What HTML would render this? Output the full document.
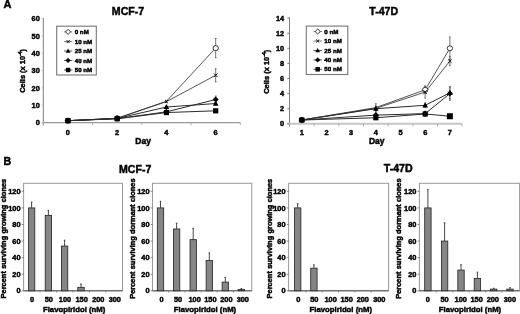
<!DOCTYPE html>
<html><head><meta charset="utf-8"><style>
html,body{margin:0;padding:0;background:#fff;width:520px;height:314px;overflow:hidden}
svg{display:block;filter:blur(0.3px)}
text{font-family:"Liberation Sans", sans-serif;font-weight:bold;fill:#000;stroke:#000;stroke-width:0.45px}
</style></head><body>
<svg width="520" height="314" viewBox="0 0 520 314">
<text x="3.60" y="8.30" font-size="11" text-anchor="start" >A</text>
<text x="3.60" y="165.40" font-size="10.6" text-anchor="start" >B</text>
<text x="128.00" y="14.90" font-size="10.6" text-anchor="middle" >MCF-7</text>
<line x1="43.30" y1="18.00" x2="43.30" y2="125.30" stroke="#808080" stroke-width="1" />
<line x1="42.60" y1="122.60" x2="240.30" y2="122.60" stroke="#999" stroke-width="1.4" />
<line x1="92.55" y1="122.60" x2="92.55" y2="125.20" stroke="#a8a8a8" stroke-width="0.9" />
<line x1="141.80" y1="122.60" x2="141.80" y2="125.20" stroke="#a8a8a8" stroke-width="0.9" />
<line x1="191.05" y1="122.60" x2="191.05" y2="125.20" stroke="#a8a8a8" stroke-width="0.9" />
<line x1="240.30" y1="122.60" x2="240.30" y2="125.20" stroke="#a8a8a8" stroke-width="0.9" />
<line x1="41.50" y1="122.60" x2="43.30" y2="122.60" stroke="#bbb" stroke-width="0.8" />
<text x="39.80" y="125.20" font-size="7.4" text-anchor="end" >0</text>
<line x1="41.50" y1="105.27" x2="43.30" y2="105.27" stroke="#bbb" stroke-width="0.8" />
<text x="39.80" y="107.87" font-size="7.4" text-anchor="end" >10</text>
<line x1="41.50" y1="87.93" x2="43.30" y2="87.93" stroke="#bbb" stroke-width="0.8" />
<text x="39.80" y="90.53" font-size="7.4" text-anchor="end" >20</text>
<line x1="41.50" y1="70.60" x2="43.30" y2="70.60" stroke="#bbb" stroke-width="0.8" />
<text x="39.80" y="73.20" font-size="7.4" text-anchor="end" >30</text>
<line x1="41.50" y1="53.27" x2="43.30" y2="53.27" stroke="#bbb" stroke-width="0.8" />
<text x="39.80" y="55.87" font-size="7.4" text-anchor="end" >40</text>
<line x1="41.50" y1="35.93" x2="43.30" y2="35.93" stroke="#bbb" stroke-width="0.8" />
<text x="39.80" y="38.53" font-size="7.4" text-anchor="end" >50</text>
<line x1="41.50" y1="18.60" x2="43.30" y2="18.60" stroke="#bbb" stroke-width="0.8" />
<text x="39.80" y="21.20" font-size="7.4" text-anchor="end" >60</text>
<text x="67.92" y="134.50" font-size="7.4" text-anchor="middle" >0</text>
<text x="117.17" y="134.50" font-size="7.4" text-anchor="middle" >2</text>
<text x="166.43" y="134.50" font-size="7.4" text-anchor="middle" >4</text>
<text x="215.68" y="134.50" font-size="7.4" text-anchor="middle" >6</text>
<text x="143.10" y="143.70" font-size="8.5" text-anchor="middle" >Day</text>
<text transform="translate(25.0,70.9) rotate(-90)" font-size="7.45" text-anchor="middle">Cells (x 10<tspan dy="-2.8" font-size="5">-4</tspan><tspan dy="2.8">)</tspan></text>
<polyline points="67.92,120.69 117.17,118.27 166.43,101.28 215.68,48.07" fill="none" stroke="#2a2a2a" stroke-width="0.8"/>
<polyline points="67.92,120.69 117.17,118.27 166.43,101.63 215.68,75.28" fill="none" stroke="#2a2a2a" stroke-width="0.8"/>
<polyline points="67.92,120.69 117.17,118.44 166.43,107.00 215.68,103.53" fill="none" stroke="#2a2a2a" stroke-width="1.0"/>
<polyline points="67.92,120.69 117.17,118.61 166.43,111.85 215.68,99.55" fill="none" stroke="#2a2a2a" stroke-width="1.0"/>
<polyline points="67.92,120.69 117.17,118.79 166.43,112.55 215.68,110.81" fill="none" stroke="#2a2a2a" stroke-width="1.0"/>
<line x1="117.17" y1="117.57" x2="117.17" y2="118.96" stroke="#555" stroke-width="0.8" />
<line x1="116.27" y1="117.57" x2="118.08" y2="117.57" stroke="#555" stroke-width="0.8" />
<line x1="116.27" y1="118.96" x2="118.08" y2="118.96" stroke="#555" stroke-width="0.8" />
<line x1="166.43" y1="100.24" x2="166.43" y2="102.32" stroke="#555" stroke-width="0.8" />
<line x1="165.53" y1="100.24" x2="167.33" y2="100.24" stroke="#555" stroke-width="0.8" />
<line x1="165.53" y1="102.32" x2="167.33" y2="102.32" stroke="#555" stroke-width="0.8" />
<line x1="215.68" y1="38.53" x2="215.68" y2="57.60" stroke="#555" stroke-width="0.8" />
<line x1="214.78" y1="38.53" x2="216.58" y2="38.53" stroke="#555" stroke-width="0.8" />
<line x1="214.78" y1="57.60" x2="216.58" y2="57.60" stroke="#555" stroke-width="0.8" />
<line x1="117.17" y1="117.57" x2="117.17" y2="118.96" stroke="#555" stroke-width="0.8" />
<line x1="116.27" y1="117.57" x2="118.08" y2="117.57" stroke="#555" stroke-width="0.8" />
<line x1="116.27" y1="118.96" x2="118.08" y2="118.96" stroke="#555" stroke-width="0.8" />
<line x1="166.43" y1="100.59" x2="166.43" y2="102.67" stroke="#555" stroke-width="0.8" />
<line x1="165.53" y1="100.59" x2="167.33" y2="100.59" stroke="#555" stroke-width="0.8" />
<line x1="165.53" y1="102.67" x2="167.33" y2="102.67" stroke="#555" stroke-width="0.8" />
<line x1="215.68" y1="68.69" x2="215.68" y2="81.87" stroke="#555" stroke-width="0.8" />
<line x1="214.78" y1="68.69" x2="216.58" y2="68.69" stroke="#555" stroke-width="0.8" />
<line x1="214.78" y1="81.87" x2="216.58" y2="81.87" stroke="#555" stroke-width="0.8" />
<line x1="166.43" y1="106.13" x2="166.43" y2="107.87" stroke="#555" stroke-width="0.8" />
<line x1="165.53" y1="106.13" x2="167.33" y2="106.13" stroke="#555" stroke-width="0.8" />
<line x1="165.53" y1="107.87" x2="167.33" y2="107.87" stroke="#555" stroke-width="0.8" />
<line x1="215.68" y1="102.15" x2="215.68" y2="104.92" stroke="#555" stroke-width="0.8" />
<line x1="214.78" y1="102.15" x2="216.58" y2="102.15" stroke="#555" stroke-width="0.8" />
<line x1="214.78" y1="104.92" x2="216.58" y2="104.92" stroke="#555" stroke-width="0.8" />
<line x1="166.43" y1="110.99" x2="166.43" y2="112.72" stroke="#555" stroke-width="0.8" />
<line x1="165.53" y1="110.99" x2="167.33" y2="110.99" stroke="#555" stroke-width="0.8" />
<line x1="165.53" y1="112.72" x2="167.33" y2="112.72" stroke="#555" stroke-width="0.8" />
<line x1="215.68" y1="96.08" x2="215.68" y2="103.01" stroke="#555" stroke-width="0.8" />
<line x1="214.78" y1="96.08" x2="216.58" y2="96.08" stroke="#555" stroke-width="0.8" />
<line x1="214.78" y1="103.01" x2="216.58" y2="103.01" stroke="#555" stroke-width="0.8" />
<line x1="215.68" y1="109.43" x2="215.68" y2="112.20" stroke="#555" stroke-width="0.8" />
<line x1="214.78" y1="109.43" x2="216.58" y2="109.43" stroke="#555" stroke-width="0.8" />
<line x1="214.78" y1="112.20" x2="216.58" y2="112.20" stroke="#555" stroke-width="0.8" />
<ellipse cx="67.92" cy="120.69" rx="2.70" ry="2.50" fill="#fff" stroke="#222" stroke-width="0.9"/>
<ellipse cx="117.17" cy="118.27" rx="2.70" ry="2.50" fill="#fff" stroke="#222" stroke-width="0.9"/>
<ellipse cx="215.68" cy="48.07" rx="2.70" ry="2.50" fill="#fff" stroke="#222" stroke-width="0.9"/>
<line x1="66.12" y1="118.89" x2="69.72" y2="122.49" stroke="#111" stroke-width="1.0" />
<line x1="66.12" y1="122.49" x2="69.72" y2="118.89" stroke="#111" stroke-width="1.0" />
<line x1="115.38" y1="116.47" x2="118.97" y2="120.07" stroke="#111" stroke-width="1.0" />
<line x1="115.38" y1="120.07" x2="118.97" y2="116.47" stroke="#111" stroke-width="1.0" />
<line x1="165.17" y1="100.37" x2="167.69" y2="102.89" stroke="#111" stroke-width="1.0" />
<line x1="165.17" y1="102.89" x2="167.69" y2="100.37" stroke="#111" stroke-width="1.0" />
<line x1="213.88" y1="73.48" x2="217.48" y2="77.08" stroke="#111" stroke-width="1.0" />
<line x1="213.88" y1="77.08" x2="217.48" y2="73.48" stroke="#111" stroke-width="1.0" />
<path d="M67.92,117.69 L70.77,122.79 L65.08,122.79 Z" fill="#000" stroke="none" stroke-width="0" />
<path d="M117.17,115.44 L120.02,120.54 L114.33,120.54 Z" fill="#000" stroke="none" stroke-width="0" />
<path d="M166.43,104.00 L169.28,109.10 L163.58,109.10 Z" fill="#000" stroke="none" stroke-width="0" />
<path d="M215.68,100.53 L218.53,105.63 L212.83,105.63 Z" fill="#000" stroke="none" stroke-width="0" />
<path d="M67.92,117.69 L70.92,120.69 L67.92,123.69 L64.92,120.69 Z" fill="#000" stroke="none" stroke-width="0" />
<path d="M117.17,115.61 L120.17,118.61 L117.17,121.61 L114.17,118.61 Z" fill="#000" stroke="none" stroke-width="0" />
<path d="M166.43,108.85 L169.43,111.85 L166.43,114.85 L163.43,111.85 Z" fill="#000" stroke="none" stroke-width="0" />
<path d="M215.68,96.55 L218.68,99.55 L215.68,102.55 L212.68,99.55 Z" fill="#000" stroke="none" stroke-width="0" />
<rect x="65.33" y="118.09" width="5.20" height="5.20" fill="#000" stroke="none" stroke-width="0"/>
<rect x="114.58" y="116.19" width="5.20" height="5.20" fill="#000" stroke="none" stroke-width="0"/>
<rect x="163.83" y="109.95" width="5.20" height="5.20" fill="#000" stroke="none" stroke-width="0"/>
<rect x="213.08" y="108.21" width="5.20" height="5.20" fill="#000" stroke="none" stroke-width="0"/>
<rect x="56.70" y="26.20" width="39.60" height="48.80" fill="#fff" stroke="#777" stroke-width="1.1"/>
<line x1="64.00" y1="31.90" x2="72.30" y2="31.90" stroke="#6a6a6a" stroke-width="0.9" />
<path d="M68.10,29.43 L70.74,31.90 L68.10,34.36 L65.47,31.90 Z" fill="#fff" stroke="#222" stroke-width="0.9" />
<text x="74.70" y="34.00" font-size="6.2" text-anchor="start" >0 nM</text>
<line x1="64.00" y1="41.60" x2="72.30" y2="41.60" stroke="#6a6a6a" stroke-width="0.9" />
<line x1="66.57" y1="40.07" x2="69.63" y2="43.13" stroke="#111" stroke-width="1.0" />
<line x1="66.57" y1="43.13" x2="69.63" y2="40.07" stroke="#111" stroke-width="1.0" />
<text x="74.70" y="43.70" font-size="6.2" text-anchor="start" >10 nM</text>
<line x1="64.00" y1="51.00" x2="72.30" y2="51.00" stroke="#444" stroke-width="0.9" />
<path d="M68.10,48.45 L70.52,52.78 L65.68,52.78 Z" fill="#000" stroke="none" stroke-width="0" />
<text x="74.70" y="53.10" font-size="6.2" text-anchor="start" >25 nM</text>
<line x1="64.00" y1="60.40" x2="72.30" y2="60.40" stroke="#333" stroke-width="0.9" />
<path d="M68.10,57.85 L70.65,60.40 L68.10,62.95 L65.55,60.40 Z" fill="#000" stroke="none" stroke-width="0" />
<text x="74.70" y="62.50" font-size="6.2" text-anchor="start" >40 nM</text>
<line x1="64.00" y1="70.00" x2="72.30" y2="70.00" stroke="#333" stroke-width="0.9" />
<rect x="65.89" y="67.79" width="4.42" height="4.42" fill="#000" stroke="none" stroke-width="0"/>
<text x="74.70" y="72.10" font-size="6.2" text-anchor="start" >50 nM</text>
<text x="383.70" y="14.90" font-size="10.6" text-anchor="middle" >T-47D</text>
<line x1="289.50" y1="17.30" x2="289.50" y2="126.50" stroke="#808080" stroke-width="1" />
<line x1="286.90" y1="123.80" x2="462.20" y2="123.80" stroke="#c6c6c6" stroke-width="2.0" />
<line x1="314.17" y1="123.80" x2="314.17" y2="126.40" stroke="#a8a8a8" stroke-width="0.9" />
<line x1="338.84" y1="123.80" x2="338.84" y2="126.40" stroke="#a8a8a8" stroke-width="0.9" />
<line x1="363.51" y1="123.80" x2="363.51" y2="126.40" stroke="#a8a8a8" stroke-width="0.9" />
<line x1="388.19" y1="123.80" x2="388.19" y2="126.40" stroke="#a8a8a8" stroke-width="0.9" />
<line x1="412.86" y1="123.80" x2="412.86" y2="126.40" stroke="#a8a8a8" stroke-width="0.9" />
<line x1="437.53" y1="123.80" x2="437.53" y2="126.40" stroke="#a8a8a8" stroke-width="0.9" />
<line x1="462.20" y1="123.80" x2="462.20" y2="126.40" stroke="#a8a8a8" stroke-width="0.9" />
<line x1="287.30" y1="123.80" x2="289.50" y2="123.80" stroke="#777" stroke-width="0.9" />
<text x="284.20" y="126.40" font-size="7.4" text-anchor="end" >0</text>
<line x1="287.30" y1="108.70" x2="289.50" y2="108.70" stroke="#777" stroke-width="0.9" />
<text x="284.20" y="111.30" font-size="7.4" text-anchor="end" >2</text>
<line x1="287.30" y1="93.60" x2="289.50" y2="93.60" stroke="#777" stroke-width="0.9" />
<text x="284.20" y="96.20" font-size="7.4" text-anchor="end" >4</text>
<line x1="287.30" y1="78.50" x2="289.50" y2="78.50" stroke="#777" stroke-width="0.9" />
<text x="284.20" y="81.10" font-size="7.4" text-anchor="end" >6</text>
<line x1="287.30" y1="63.40" x2="289.50" y2="63.40" stroke="#777" stroke-width="0.9" />
<text x="284.20" y="66.00" font-size="7.4" text-anchor="end" >8</text>
<line x1="287.30" y1="48.30" x2="289.50" y2="48.30" stroke="#777" stroke-width="0.9" />
<text x="284.20" y="50.90" font-size="7.4" text-anchor="end" >10</text>
<line x1="287.30" y1="33.20" x2="289.50" y2="33.20" stroke="#777" stroke-width="0.9" />
<text x="284.20" y="35.80" font-size="7.4" text-anchor="end" >12</text>
<line x1="287.30" y1="18.10" x2="289.50" y2="18.10" stroke="#777" stroke-width="0.9" />
<text x="284.20" y="20.70" font-size="7.4" text-anchor="end" >14</text>
<text x="301.84" y="134.50" font-size="7.4" text-anchor="middle" >1</text>
<text x="326.51" y="134.50" font-size="7.4" text-anchor="middle" >2</text>
<text x="351.18" y="134.50" font-size="7.4" text-anchor="middle" >3</text>
<text x="375.85" y="134.50" font-size="7.4" text-anchor="middle" >4</text>
<text x="400.52" y="134.50" font-size="7.4" text-anchor="middle" >5</text>
<text x="425.19" y="134.50" font-size="7.4" text-anchor="middle" >6</text>
<text x="449.86" y="134.50" font-size="7.4" text-anchor="middle" >7</text>
<text x="376.70" y="143.70" font-size="8.5" text-anchor="middle" >Day</text>
<text transform="translate(269.2,71.8) rotate(-90)" font-size="7.5" text-anchor="middle">Cells (x 10<tspan dy="-2.8" font-size="5">-4</tspan><tspan dy="2.8">)</tspan></text>
<polyline points="301.84,120.02 375.85,107.57 425.19,89.83 449.86,48.30" fill="none" stroke="#2a2a2a" stroke-width="0.8"/>
<polyline points="301.84,120.02 375.85,108.32 425.19,92.09 449.86,61.13" fill="none" stroke="#2a2a2a" stroke-width="0.8"/>
<polyline points="301.84,120.02 375.85,108.70 425.19,105.30 449.86,92.84" fill="none" stroke="#2a2a2a" stroke-width="1.0"/>
<polyline points="301.84,120.02 375.85,115.12 425.19,113.61 449.86,93.60" fill="none" stroke="#2a2a2a" stroke-width="1.0"/>
<polyline points="301.84,120.02 375.85,117.76 425.19,113.98 449.86,116.25" fill="none" stroke="#2a2a2a" stroke-width="1.0"/>
<line x1="375.85" y1="103.79" x2="375.85" y2="111.34" stroke="#555" stroke-width="0.8" />
<line x1="374.95" y1="103.79" x2="376.75" y2="103.79" stroke="#555" stroke-width="0.8" />
<line x1="374.95" y1="111.34" x2="376.75" y2="111.34" stroke="#555" stroke-width="0.8" />
<line x1="425.19" y1="86.05" x2="425.19" y2="93.60" stroke="#555" stroke-width="0.8" />
<line x1="424.29" y1="86.05" x2="426.09" y2="86.05" stroke="#555" stroke-width="0.8" />
<line x1="424.29" y1="93.60" x2="426.09" y2="93.60" stroke="#555" stroke-width="0.8" />
<line x1="449.86" y1="36.98" x2="449.86" y2="59.62" stroke="#555" stroke-width="0.8" />
<line x1="448.96" y1="36.98" x2="450.76" y2="36.98" stroke="#555" stroke-width="0.8" />
<line x1="448.96" y1="59.62" x2="450.76" y2="59.62" stroke="#555" stroke-width="0.8" />
<line x1="375.85" y1="106.06" x2="375.85" y2="110.59" stroke="#555" stroke-width="0.8" />
<line x1="374.95" y1="106.06" x2="376.75" y2="106.06" stroke="#555" stroke-width="0.8" />
<line x1="374.95" y1="110.59" x2="376.75" y2="110.59" stroke="#555" stroke-width="0.8" />
<line x1="425.19" y1="86.05" x2="425.19" y2="98.13" stroke="#555" stroke-width="0.8" />
<line x1="424.29" y1="86.05" x2="426.09" y2="86.05" stroke="#555" stroke-width="0.8" />
<line x1="424.29" y1="98.13" x2="426.09" y2="98.13" stroke="#555" stroke-width="0.8" />
<line x1="449.86" y1="56.61" x2="449.86" y2="65.66" stroke="#555" stroke-width="0.8" />
<line x1="448.96" y1="56.61" x2="450.76" y2="56.61" stroke="#555" stroke-width="0.8" />
<line x1="448.96" y1="65.66" x2="450.76" y2="65.66" stroke="#555" stroke-width="0.8" />
<line x1="375.85" y1="106.44" x2="375.85" y2="110.97" stroke="#555" stroke-width="0.8" />
<line x1="374.95" y1="106.44" x2="376.75" y2="106.44" stroke="#555" stroke-width="0.8" />
<line x1="374.95" y1="110.97" x2="376.75" y2="110.97" stroke="#555" stroke-width="0.8" />
<line x1="425.19" y1="103.04" x2="425.19" y2="107.57" stroke="#555" stroke-width="0.8" />
<line x1="424.29" y1="103.04" x2="426.09" y2="103.04" stroke="#555" stroke-width="0.8" />
<line x1="424.29" y1="107.57" x2="426.09" y2="107.57" stroke="#555" stroke-width="0.8" />
<line x1="449.86" y1="86.81" x2="449.86" y2="98.89" stroke="#555" stroke-width="0.8" />
<line x1="448.96" y1="86.81" x2="450.76" y2="86.81" stroke="#555" stroke-width="0.8" />
<line x1="448.96" y1="98.89" x2="450.76" y2="98.89" stroke="#555" stroke-width="0.8" />
<line x1="375.85" y1="112.85" x2="375.85" y2="117.38" stroke="#555" stroke-width="0.8" />
<line x1="374.95" y1="112.85" x2="376.75" y2="112.85" stroke="#555" stroke-width="0.8" />
<line x1="374.95" y1="117.38" x2="376.75" y2="117.38" stroke="#555" stroke-width="0.8" />
<line x1="425.19" y1="111.34" x2="425.19" y2="115.87" stroke="#555" stroke-width="0.8" />
<line x1="424.29" y1="111.34" x2="426.09" y2="111.34" stroke="#555" stroke-width="0.8" />
<line x1="424.29" y1="115.87" x2="426.09" y2="115.87" stroke="#555" stroke-width="0.8" />
<line x1="449.86" y1="86.81" x2="449.86" y2="100.39" stroke="#555" stroke-width="0.8" />
<line x1="448.96" y1="86.81" x2="450.76" y2="86.81" stroke="#555" stroke-width="0.8" />
<line x1="448.96" y1="100.39" x2="450.76" y2="100.39" stroke="#555" stroke-width="0.8" />
<line x1="375.85" y1="117.00" x2="375.85" y2="118.52" stroke="#555" stroke-width="0.8" />
<line x1="374.95" y1="117.00" x2="376.75" y2="117.00" stroke="#555" stroke-width="0.8" />
<line x1="374.95" y1="118.52" x2="376.75" y2="118.52" stroke="#555" stroke-width="0.8" />
<line x1="425.19" y1="111.72" x2="425.19" y2="116.25" stroke="#555" stroke-width="0.8" />
<line x1="424.29" y1="111.72" x2="426.09" y2="111.72" stroke="#555" stroke-width="0.8" />
<line x1="424.29" y1="116.25" x2="426.09" y2="116.25" stroke="#555" stroke-width="0.8" />
<line x1="449.86" y1="114.74" x2="449.86" y2="117.76" stroke="#555" stroke-width="0.8" />
<line x1="448.96" y1="114.74" x2="450.76" y2="114.74" stroke="#555" stroke-width="0.8" />
<line x1="448.96" y1="117.76" x2="450.76" y2="117.76" stroke="#555" stroke-width="0.8" />
<ellipse cx="301.84" cy="120.02" rx="2.70" ry="2.50" fill="#fff" stroke="#222" stroke-width="0.9"/>
<ellipse cx="425.19" cy="89.83" rx="2.70" ry="2.50" fill="#fff" stroke="#222" stroke-width="0.9"/>
<ellipse cx="449.86" cy="48.30" rx="2.70" ry="2.50" fill="#fff" stroke="#222" stroke-width="0.9"/>
<line x1="300.04" y1="118.22" x2="303.64" y2="121.82" stroke="#111" stroke-width="1.0" />
<line x1="300.04" y1="121.82" x2="303.64" y2="118.22" stroke="#111" stroke-width="1.0" />
<line x1="423.39" y1="90.29" x2="426.99" y2="93.89" stroke="#111" stroke-width="1.0" />
<line x1="423.39" y1="93.89" x2="426.99" y2="90.29" stroke="#111" stroke-width="1.0" />
<line x1="448.06" y1="59.34" x2="451.66" y2="62.93" stroke="#111" stroke-width="1.0" />
<line x1="448.06" y1="62.93" x2="451.66" y2="59.34" stroke="#111" stroke-width="1.0" />
<path d="M301.84,117.02 L304.69,122.12 L298.99,122.12 Z" fill="#000" stroke="none" stroke-width="0" />
<path d="M375.85,105.70 L378.70,110.80 L373.00,110.80 Z" fill="#000" stroke="none" stroke-width="0" />
<path d="M425.19,102.30 L428.04,107.40 L422.34,107.40 Z" fill="#000" stroke="none" stroke-width="0" />
<path d="M449.86,89.84 L452.71,94.94 L447.01,94.94 Z" fill="#000" stroke="none" stroke-width="0" />
<path d="M301.84,117.02 L304.84,120.02 L301.84,123.02 L298.84,120.02 Z" fill="#000" stroke="none" stroke-width="0" />
<path d="M375.85,112.12 L378.85,115.12 L375.85,118.12 L372.85,115.12 Z" fill="#000" stroke="none" stroke-width="0" />
<path d="M425.19,110.61 L428.19,113.61 L425.19,116.61 L422.19,113.61 Z" fill="#000" stroke="none" stroke-width="0" />
<path d="M449.86,90.60 L452.86,93.60 L449.86,96.60 L446.86,93.60 Z" fill="#000" stroke="none" stroke-width="0" />
<rect x="299.24" y="117.42" width="5.20" height="5.20" fill="#000" stroke="none" stroke-width="0"/>
<rect x="373.25" y="115.16" width="5.20" height="5.20" fill="#000" stroke="none" stroke-width="0"/>
<rect x="422.59" y="111.39" width="5.20" height="5.20" fill="#000" stroke="none" stroke-width="0"/>
<rect x="446.87" y="113.26" width="5.98" height="5.98" fill="#000" stroke="none" stroke-width="0"/>
<rect x="306.30" y="26.10" width="41.50" height="48.40" fill="#fff" stroke="#777" stroke-width="1.1"/>
<line x1="313.60" y1="31.50" x2="321.90" y2="31.50" stroke="#6a6a6a" stroke-width="0.9" />
<path d="M317.70,29.04 L320.33,31.50 L317.70,33.97 L315.06,31.50 Z" fill="#fff" stroke="#222" stroke-width="0.9" />
<text x="324.30" y="33.60" font-size="6.2" text-anchor="start" >0 nM</text>
<line x1="313.60" y1="41.00" x2="321.90" y2="41.00" stroke="#6a6a6a" stroke-width="0.9" />
<line x1="316.17" y1="39.47" x2="319.23" y2="42.53" stroke="#111" stroke-width="1.0" />
<line x1="316.17" y1="42.53" x2="319.23" y2="39.47" stroke="#111" stroke-width="1.0" />
<text x="324.30" y="43.10" font-size="6.2" text-anchor="start" >10 nM</text>
<line x1="313.60" y1="50.50" x2="321.90" y2="50.50" stroke="#444" stroke-width="0.9" />
<path d="M317.70,47.95 L320.12,52.28 L315.28,52.28 Z" fill="#000" stroke="none" stroke-width="0" />
<text x="324.30" y="52.60" font-size="6.2" text-anchor="start" >25 nM</text>
<line x1="313.60" y1="59.90" x2="321.90" y2="59.90" stroke="#333" stroke-width="0.9" />
<path d="M317.70,57.35 L320.25,59.90 L317.70,62.45 L315.15,59.90 Z" fill="#000" stroke="none" stroke-width="0" />
<text x="324.30" y="62.00" font-size="6.2" text-anchor="start" >40 nM</text>
<line x1="313.60" y1="69.30" x2="321.90" y2="69.30" stroke="#333" stroke-width="0.9" />
<rect x="315.49" y="67.09" width="4.42" height="4.42" fill="#000" stroke="none" stroke-width="0"/>
<text x="324.30" y="71.40" font-size="6.2" text-anchor="start" >50 nM</text>
<rect x="23.60" y="183.30" width="98.90" height="107.50" fill="none" stroke="#999" stroke-width="1"/>
<line x1="23.60" y1="290.80" x2="122.50" y2="290.80" stroke="#555" stroke-width="1" />
<line x1="21.80" y1="290.80" x2="23.60" y2="290.80" stroke="#666" stroke-width="0.8" />
<text x="20.60" y="293.40" font-size="7.4" text-anchor="end" >0</text>
<line x1="21.80" y1="274.22" x2="23.60" y2="274.22" stroke="#666" stroke-width="0.8" />
<text x="20.60" y="276.82" font-size="7.4" text-anchor="end" >20</text>
<line x1="21.80" y1="257.64" x2="23.60" y2="257.64" stroke="#666" stroke-width="0.8" />
<text x="20.60" y="260.24" font-size="7.4" text-anchor="end" >40</text>
<line x1="21.80" y1="241.06" x2="23.60" y2="241.06" stroke="#666" stroke-width="0.8" />
<text x="20.60" y="243.66" font-size="7.4" text-anchor="end" >60</text>
<line x1="21.80" y1="224.48" x2="23.60" y2="224.48" stroke="#666" stroke-width="0.8" />
<text x="20.60" y="227.08" font-size="7.4" text-anchor="end" >80</text>
<line x1="21.80" y1="207.90" x2="23.60" y2="207.90" stroke="#666" stroke-width="0.8" />
<text x="20.60" y="210.50" font-size="7.4" text-anchor="end" >100</text>
<line x1="21.80" y1="191.32" x2="23.60" y2="191.32" stroke="#666" stroke-width="0.8" />
<text x="20.60" y="193.92" font-size="7.4" text-anchor="end" >120</text>
<line x1="40.00" y1="290.80" x2="40.00" y2="292.60" stroke="#777" stroke-width="0.8" />
<line x1="56.50" y1="290.80" x2="56.50" y2="292.60" stroke="#777" stroke-width="0.8" />
<line x1="72.80" y1="290.80" x2="72.80" y2="292.60" stroke="#777" stroke-width="0.8" />
<line x1="89.25" y1="290.80" x2="89.25" y2="292.60" stroke="#777" stroke-width="0.8" />
<line x1="105.75" y1="290.80" x2="105.75" y2="292.60" stroke="#777" stroke-width="0.8" />
<line x1="31.60" y1="202.10" x2="31.60" y2="207.90" stroke="#333" stroke-width="0.9" />
<line x1="30.80" y1="202.10" x2="32.40" y2="202.10" stroke="#333" stroke-width="0.9" />
<rect x="28.40" y="207.90" width="6.40" height="82.90" fill="#858585" stroke="#222" stroke-width="0.8"/>
<line x1="48.40" y1="210.39" x2="48.40" y2="215.36" stroke="#333" stroke-width="0.9" />
<line x1="47.60" y1="210.39" x2="49.20" y2="210.39" stroke="#333" stroke-width="0.9" />
<rect x="45.20" y="215.36" width="6.40" height="75.44" fill="#858585" stroke="#222" stroke-width="0.8"/>
<line x1="64.60" y1="240.23" x2="64.60" y2="246.03" stroke="#333" stroke-width="0.9" />
<line x1="63.80" y1="240.23" x2="65.40" y2="240.23" stroke="#333" stroke-width="0.9" />
<rect x="61.40" y="246.03" width="6.40" height="44.77" fill="#858585" stroke="#222" stroke-width="0.8"/>
<line x1="81.00" y1="284.00" x2="81.00" y2="287.32" stroke="#333" stroke-width="0.9" />
<line x1="80.20" y1="284.00" x2="81.80" y2="284.00" stroke="#333" stroke-width="0.9" />
<rect x="77.80" y="287.32" width="6.40" height="3.48" fill="#858585" stroke="#222" stroke-width="0.8"/>
<text x="32.10" y="301.70" font-size="7.4" text-anchor="middle" >0</text>
<text x="48.80" y="301.70" font-size="7.4" text-anchor="middle" >50</text>
<text x="65.00" y="301.70" font-size="7.4" text-anchor="middle" >100</text>
<text x="81.60" y="301.70" font-size="7.4" text-anchor="middle" >150</text>
<text x="98.30" y="301.70" font-size="7.4" text-anchor="middle" >200</text>
<text x="114.80" y="301.70" font-size="7.4" text-anchor="middle" >300</text>
<text x="74.20" y="311.80" font-size="7.75" text-anchor="middle" >Flavopiridol (nM)</text>
<text transform="translate(6.00,238.6) rotate(-90)" font-size="7.45" word-spacing="0.2" text-anchor="middle">Percent surviving growing clones</text>
<rect x="152.50" y="183.30" width="99.30" height="107.50" fill="none" stroke="#999" stroke-width="1"/>
<line x1="152.50" y1="290.80" x2="251.80" y2="290.80" stroke="#555" stroke-width="1" />
<line x1="150.70" y1="290.80" x2="152.50" y2="290.80" stroke="#666" stroke-width="0.8" />
<text x="149.50" y="293.40" font-size="7.4" text-anchor="end" >0</text>
<line x1="150.70" y1="274.22" x2="152.50" y2="274.22" stroke="#666" stroke-width="0.8" />
<text x="149.50" y="276.82" font-size="7.4" text-anchor="end" >20</text>
<line x1="150.70" y1="257.64" x2="152.50" y2="257.64" stroke="#666" stroke-width="0.8" />
<text x="149.50" y="260.24" font-size="7.4" text-anchor="end" >40</text>
<line x1="150.70" y1="241.06" x2="152.50" y2="241.06" stroke="#666" stroke-width="0.8" />
<text x="149.50" y="243.66" font-size="7.4" text-anchor="end" >60</text>
<line x1="150.70" y1="224.48" x2="152.50" y2="224.48" stroke="#666" stroke-width="0.8" />
<text x="149.50" y="227.08" font-size="7.4" text-anchor="end" >80</text>
<line x1="150.70" y1="207.90" x2="152.50" y2="207.90" stroke="#666" stroke-width="0.8" />
<text x="149.50" y="210.50" font-size="7.4" text-anchor="end" >100</text>
<line x1="150.70" y1="191.32" x2="152.50" y2="191.32" stroke="#666" stroke-width="0.8" />
<text x="149.50" y="193.92" font-size="7.4" text-anchor="end" >120</text>
<line x1="168.55" y1="290.80" x2="168.55" y2="292.60" stroke="#777" stroke-width="0.8" />
<line x1="184.90" y1="290.80" x2="184.90" y2="292.60" stroke="#777" stroke-width="0.8" />
<line x1="201.25" y1="290.80" x2="201.25" y2="292.60" stroke="#777" stroke-width="0.8" />
<line x1="217.30" y1="290.80" x2="217.30" y2="292.60" stroke="#777" stroke-width="0.8" />
<line x1="233.35" y1="290.80" x2="233.35" y2="292.60" stroke="#777" stroke-width="0.8" />
<line x1="160.50" y1="201.27" x2="160.50" y2="207.90" stroke="#333" stroke-width="0.9" />
<line x1="159.70" y1="201.27" x2="161.30" y2="201.27" stroke="#333" stroke-width="0.9" />
<rect x="157.30" y="207.90" width="6.40" height="82.90" fill="#858585" stroke="#222" stroke-width="0.8"/>
<line x1="176.60" y1="223.15" x2="176.60" y2="228.96" stroke="#333" stroke-width="0.9" />
<line x1="175.80" y1="223.15" x2="177.40" y2="223.15" stroke="#333" stroke-width="0.9" />
<rect x="173.40" y="228.96" width="6.40" height="61.84" fill="#858585" stroke="#222" stroke-width="0.8"/>
<line x1="193.20" y1="228.29" x2="193.20" y2="239.65" stroke="#333" stroke-width="0.9" />
<line x1="192.40" y1="228.29" x2="194.00" y2="228.29" stroke="#333" stroke-width="0.9" />
<rect x="190.00" y="239.65" width="6.40" height="51.15" fill="#858585" stroke="#222" stroke-width="0.8"/>
<line x1="209.30" y1="252.91" x2="209.30" y2="260.38" stroke="#333" stroke-width="0.9" />
<line x1="208.50" y1="252.91" x2="210.10" y2="252.91" stroke="#333" stroke-width="0.9" />
<rect x="206.10" y="260.38" width="6.40" height="30.42" fill="#858585" stroke="#222" stroke-width="0.8"/>
<line x1="225.30" y1="277.37" x2="225.30" y2="282.10" stroke="#333" stroke-width="0.9" />
<line x1="224.50" y1="277.37" x2="226.10" y2="277.37" stroke="#333" stroke-width="0.9" />
<rect x="222.10" y="282.10" width="6.40" height="8.70" fill="#858585" stroke="#222" stroke-width="0.8"/>
<line x1="241.40" y1="288.48" x2="241.40" y2="289.47" stroke="#333" stroke-width="0.9" />
<line x1="240.60" y1="288.48" x2="242.20" y2="288.48" stroke="#333" stroke-width="0.9" />
<rect x="238.20" y="289.47" width="6.40" height="1.33" fill="#858585" stroke="#222" stroke-width="0.8"/>
<text x="161.50" y="301.70" font-size="7.4" text-anchor="middle" >0</text>
<text x="178.00" y="301.70" font-size="7.4" text-anchor="middle" >50</text>
<text x="194.60" y="301.70" font-size="7.4" text-anchor="middle" >100</text>
<text x="210.40" y="301.70" font-size="7.4" text-anchor="middle" >150</text>
<text x="226.40" y="301.70" font-size="7.4" text-anchor="middle" >200</text>
<text x="242.80" y="301.70" font-size="7.4" text-anchor="middle" >300</text>
<text x="205.00" y="311.80" font-size="7.75" text-anchor="middle" >Flavopiridol (nM)</text>
<text transform="translate(135.00,238.6) rotate(-90)" font-size="7.45" word-spacing="0.2" text-anchor="middle">Percent surviving dormant clones</text>
<rect x="288.60" y="183.30" width="100.00" height="107.50" fill="none" stroke="#999" stroke-width="1"/>
<line x1="288.60" y1="290.80" x2="388.60" y2="290.80" stroke="#555" stroke-width="1" />
<line x1="286.80" y1="290.80" x2="288.60" y2="290.80" stroke="#666" stroke-width="0.8" />
<text x="285.60" y="293.40" font-size="7.4" text-anchor="end" >0</text>
<line x1="286.80" y1="274.22" x2="288.60" y2="274.22" stroke="#666" stroke-width="0.8" />
<text x="285.60" y="276.82" font-size="7.4" text-anchor="end" >20</text>
<line x1="286.80" y1="257.64" x2="288.60" y2="257.64" stroke="#666" stroke-width="0.8" />
<text x="285.60" y="260.24" font-size="7.4" text-anchor="end" >40</text>
<line x1="286.80" y1="241.06" x2="288.60" y2="241.06" stroke="#666" stroke-width="0.8" />
<text x="285.60" y="243.66" font-size="7.4" text-anchor="end" >60</text>
<line x1="286.80" y1="224.48" x2="288.60" y2="224.48" stroke="#666" stroke-width="0.8" />
<text x="285.60" y="227.08" font-size="7.4" text-anchor="end" >80</text>
<line x1="286.80" y1="207.90" x2="288.60" y2="207.90" stroke="#666" stroke-width="0.8" />
<text x="285.60" y="210.50" font-size="7.4" text-anchor="end" >100</text>
<line x1="286.80" y1="191.32" x2="288.60" y2="191.32" stroke="#666" stroke-width="0.8" />
<text x="285.60" y="193.92" font-size="7.4" text-anchor="end" >120</text>
<line x1="305.80" y1="290.80" x2="305.80" y2="292.60" stroke="#777" stroke-width="0.8" />
<line x1="322.10" y1="290.80" x2="322.10" y2="292.60" stroke="#777" stroke-width="0.8" />
<line x1="338.50" y1="290.80" x2="338.50" y2="292.60" stroke="#777" stroke-width="0.8" />
<line x1="354.85" y1="290.80" x2="354.85" y2="292.60" stroke="#777" stroke-width="0.8" />
<line x1="371.20" y1="290.80" x2="371.20" y2="292.60" stroke="#777" stroke-width="0.8" />
<line x1="297.70" y1="203.75" x2="297.70" y2="207.90" stroke="#333" stroke-width="0.9" />
<line x1="296.90" y1="203.75" x2="298.50" y2="203.75" stroke="#333" stroke-width="0.9" />
<rect x="294.50" y="207.90" width="6.40" height="82.90" fill="#858585" stroke="#222" stroke-width="0.8"/>
<line x1="313.90" y1="264.85" x2="313.90" y2="268.17" stroke="#333" stroke-width="0.9" />
<line x1="313.10" y1="264.85" x2="314.70" y2="264.85" stroke="#333" stroke-width="0.9" />
<rect x="310.70" y="268.17" width="6.40" height="22.63" fill="#858585" stroke="#222" stroke-width="0.8"/>
<text x="298.40" y="301.70" font-size="7.4" text-anchor="middle" >0</text>
<text x="314.30" y="301.70" font-size="7.4" text-anchor="middle" >50</text>
<text x="330.60" y="301.70" font-size="7.4" text-anchor="middle" >100</text>
<text x="346.60" y="301.70" font-size="7.4" text-anchor="middle" >150</text>
<text x="362.80" y="301.70" font-size="7.4" text-anchor="middle" >200</text>
<text x="379.30" y="301.70" font-size="7.4" text-anchor="middle" >300</text>
<text x="340.80" y="311.80" font-size="7.75" text-anchor="middle" >Flavopiridol (nM)</text>
<text transform="translate(271.90,238.6) rotate(-90)" font-size="7.45" word-spacing="0.2" text-anchor="middle">Percent surviving growing clones</text>
<rect x="419.40" y="183.30" width="100.20" height="107.50" fill="none" stroke="#999" stroke-width="1"/>
<line x1="419.40" y1="290.80" x2="519.60" y2="290.80" stroke="#555" stroke-width="1" />
<line x1="417.60" y1="290.80" x2="419.40" y2="290.80" stroke="#666" stroke-width="0.8" />
<text x="416.40" y="293.40" font-size="7.4" text-anchor="end" >0</text>
<line x1="417.60" y1="274.22" x2="419.40" y2="274.22" stroke="#666" stroke-width="0.8" />
<text x="416.40" y="276.82" font-size="7.4" text-anchor="end" >20</text>
<line x1="417.60" y1="257.64" x2="419.40" y2="257.64" stroke="#666" stroke-width="0.8" />
<text x="416.40" y="260.24" font-size="7.4" text-anchor="end" >40</text>
<line x1="417.60" y1="241.06" x2="419.40" y2="241.06" stroke="#666" stroke-width="0.8" />
<text x="416.40" y="243.66" font-size="7.4" text-anchor="end" >60</text>
<line x1="417.60" y1="224.48" x2="419.40" y2="224.48" stroke="#666" stroke-width="0.8" />
<text x="416.40" y="227.08" font-size="7.4" text-anchor="end" >80</text>
<line x1="417.60" y1="207.90" x2="419.40" y2="207.90" stroke="#666" stroke-width="0.8" />
<text x="416.40" y="210.50" font-size="7.4" text-anchor="end" >100</text>
<line x1="417.60" y1="191.32" x2="419.40" y2="191.32" stroke="#666" stroke-width="0.8" />
<text x="416.40" y="193.92" font-size="7.4" text-anchor="end" >120</text>
<line x1="436.25" y1="290.80" x2="436.25" y2="292.60" stroke="#777" stroke-width="0.8" />
<line x1="452.80" y1="290.80" x2="452.80" y2="292.60" stroke="#777" stroke-width="0.8" />
<line x1="469.20" y1="290.80" x2="469.20" y2="292.60" stroke="#777" stroke-width="0.8" />
<line x1="485.55" y1="290.80" x2="485.55" y2="292.60" stroke="#777" stroke-width="0.8" />
<line x1="501.85" y1="290.80" x2="501.85" y2="292.60" stroke="#777" stroke-width="0.8" />
<line x1="427.90" y1="189.66" x2="427.90" y2="207.90" stroke="#333" stroke-width="0.9" />
<line x1="427.10" y1="189.66" x2="428.70" y2="189.66" stroke="#333" stroke-width="0.9" />
<rect x="424.70" y="207.90" width="6.40" height="82.90" fill="#858585" stroke="#222" stroke-width="0.8"/>
<line x1="444.60" y1="222.82" x2="444.60" y2="241.06" stroke="#333" stroke-width="0.9" />
<line x1="443.80" y1="222.82" x2="445.40" y2="222.82" stroke="#333" stroke-width="0.9" />
<rect x="441.40" y="241.06" width="6.40" height="49.74" fill="#858585" stroke="#222" stroke-width="0.8"/>
<line x1="461.00" y1="264.69" x2="461.00" y2="270.07" stroke="#333" stroke-width="0.9" />
<line x1="460.20" y1="264.69" x2="461.80" y2="264.69" stroke="#333" stroke-width="0.9" />
<rect x="457.80" y="270.07" width="6.40" height="20.73" fill="#858585" stroke="#222" stroke-width="0.8"/>
<line x1="477.40" y1="272.15" x2="477.40" y2="278.37" stroke="#333" stroke-width="0.9" />
<line x1="476.60" y1="272.15" x2="478.20" y2="272.15" stroke="#333" stroke-width="0.9" />
<rect x="474.20" y="278.37" width="6.40" height="12.44" fill="#858585" stroke="#222" stroke-width="0.8"/>
<line x1="493.70" y1="288.31" x2="493.70" y2="289.14" stroke="#333" stroke-width="0.9" />
<line x1="492.90" y1="288.31" x2="494.50" y2="288.31" stroke="#333" stroke-width="0.9" />
<rect x="490.50" y="289.14" width="6.40" height="1.66" fill="#858585" stroke="#222" stroke-width="0.8"/>
<line x1="510.00" y1="287.65" x2="510.00" y2="289.14" stroke="#333" stroke-width="0.9" />
<line x1="509.20" y1="287.65" x2="510.80" y2="287.65" stroke="#333" stroke-width="0.9" />
<rect x="506.80" y="289.14" width="6.40" height="1.66" fill="#858585" stroke="#222" stroke-width="0.8"/>
<text x="427.70" y="301.70" font-size="7.4" text-anchor="middle" >0</text>
<text x="444.50" y="301.70" font-size="7.4" text-anchor="middle" >50</text>
<text x="460.70" y="301.70" font-size="7.4" text-anchor="middle" >100</text>
<text x="476.60" y="301.70" font-size="7.4" text-anchor="middle" >150</text>
<text x="492.80" y="301.70" font-size="7.4" text-anchor="middle" >200</text>
<text x="509.90" y="301.70" font-size="7.4" text-anchor="middle" >300</text>
<text x="470.00" y="311.80" font-size="7.75" text-anchor="middle" >Flavopiridol (nM)</text>
<text transform="translate(401.40,238.6) rotate(-90)" font-size="7.45" word-spacing="0.2" text-anchor="middle">Percent surviving dormant clones</text>
<text x="135.20" y="172.80" font-size="10.6" text-anchor="middle" >MCF-7</text>
<text x="398.20" y="171.80" font-size="10.6" text-anchor="middle" >T-47D</text>
</svg>
</body></html>
